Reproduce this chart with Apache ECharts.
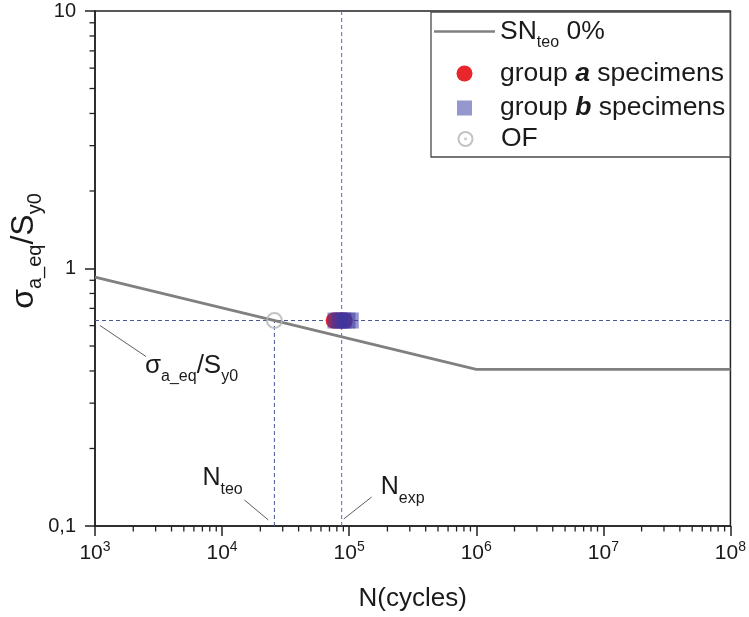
<!DOCTYPE html>
<html><head><meta charset="utf-8">
<script src="https://cdn.jsdelivr.net/npm/echarts@6/dist/echarts.min.js"></script>
<style>html,body{margin:0;padding:0;background:#fff}#c{width:749px;height:617px}</style>
</head><body><div id="c"></div>
<script>
// ---- data ----
const snCurveN = [1e3, 1e6, 1e8];
const snCurveS = [0.925, 0.406, 0.406];
const groupA_N = [75500, 79000, 83000, 87000, 92500];
const groupA_S = [0.628, 0.628, 0.628, 0.628, 0.628];
const groupB_N = [78000, 84000, 90000, 97000, 103000];
const groupB_S = [0.628, 0.628, 0.628, 0.628, 0.628];
const ofN = [25800];
const ofS = [0.628];
const refLevel = 0.628;
const nTeo = 25800;
const nExp = 87300;
const xMin = 1e3, xMax = 1e8, yMin = 0.1, yMax = 10;
const xDecades = [1e3, 1e4, 1e5, 1e6, 1e7];
const yDecades = [0.1, 1];
const minorMultipliers = [2, 3, 4, 5, 6, 7, 8, 9];
const yTickLabels = ['0,1', '1', '10'];
const seriesNames = ['SN', 'group a', 'group b', 'OF'];

const FONT = '"Liberation Sans", Arial, sans-serif';
const TXT = '#1a1a1a';
const zip = (a, b) => a.map((v, i) => [v, b[i]]);

const xMinor = [];
xDecades.forEach(d => minorMultipliers.forEach(m => xMinor.push([d * m, yMin])));
const yMinor = [];
yDecades.forEach(d => minorMultipliers.forEach(m => yMinor.push([xMin, d * m])));

function tickRender(dir) {
  return function (params, api) {
    const p = api.coord([api.value(0), api.value(1)]);
    const shape = dir === 'x'
      ? { x1: p[0], y1: p[1], x2: p[0], y2: p[1] + 5.5 }
      : { x1: p[0], y1: p[1], x2: p[0] - 5.5, y2: p[1] };
    return { type: 'line', shape, style: { stroke: '#222', lineWidth: 1.3 } };
  };
}

const chart = echarts.init(document.getElementById('c'), null, { renderer: 'canvas' });

const LFS = 26.5;
const ICON_CX = 464.5, TEXT_X = 500;
const legendBase = {
  orient: 'horizontal', padding: 0, itemGap: 0, selectedMode: false,
  left: 434, itemWidth: 61, symbolKeepAspect: true,
  textStyle: { fontFamily: FONT, fontSize: LFS, color: TXT, lineHeight: 30, padding: [0, 0, 0, 0] }
};
const boldRich = {
  m: { fontFamily: FONT, fontSize: LFS, color: TXT, lineHeight: 30 },
  b: { fontFamily: FONT, fontSize: LFS, color: TXT, lineHeight: 30, fontWeight: 'bold', fontStyle: 'italic' }
};
function symLegend(name, icon, size, top, formatter, rich) {
  const left = ICON_CX - size / 2;
  const pad = TEXT_X - (left + size + 5);
  return Object.assign({}, legendBase, {
    data: [icon ? { name, icon } : name], top, left, itemWidth: size, itemHeight: size,
    formatter,
    textStyle: Object.assign({}, legendBase.textStyle, { padding: [0, 0, 0, pad] }, rich ? { rich } : {})
  });
}

const option = {
  animation: false,
  backgroundColor: '#fff',
  grid: { left: 95, right: 16, top: 11, bottom: 89, show: true, borderColor: '#222', borderWidth: 1.5 },
  xAxis: {
    type: 'log', logBase: 10, min: xMin, max: xMax, splitNumber: 5,
    name: 'N(cycles)', nameLocation: 'middle', nameGap: 60,
    nameTextStyle: { fontFamily: FONT, fontSize: 26, color: TXT },
    axisLine: { lineStyle: { color: '#222', width: 1.5 } },
    axisTick: { length: 10, lineStyle: { color: '#222', width: 1.5 } },
    splitLine: { show: false },
    axisLabel: {
      margin: 14, color: TXT,
      formatter: v => '{m|10}{s|' + Math.round(Math.log10(v)) + '}',
      rich: {
        m: { fontFamily: FONT, fontSize: 21, color: TXT, lineHeight: 26, verticalAlign: 'middle' },
        s: { fontFamily: FONT, fontSize: 14, color: TXT, lineHeight: 14, verticalAlign: 'top' }
      }
    }
  },
  yAxis: {
    type: 'log', logBase: 10, min: yMin, max: yMax, splitNumber: 2,
    axisLine: { lineStyle: { color: '#222', width: 1.5 } },
    axisTick: { length: 10, lineStyle: { color: '#222', width: 1.5 } },
    splitLine: { show: false },
    axisLabel: {
      margin: 19, fontFamily: FONT, fontSize: 20, color: TXT,
      formatter: v => yTickLabels[Math.round(Math.log10(v)) + 1]
    }
  },
  legend: [
    Object.assign({}, legendBase, {
      data: [{ name: seriesNames[0], icon: 'rect' }], top: 12, itemHeight: 2.6, symbolKeepAspect: false,
      formatter: () => '{m|SN}{s|teo}{m| 0%}',
      textStyle: Object.assign({}, legendBase.textStyle, {
        rich: {
          m: { fontFamily: FONT, fontSize: LFS, color: TXT, lineHeight: 39, verticalAlign: 'middle' },
          s: { fontFamily: FONT, fontSize: 16, color: TXT, lineHeight: 16, verticalAlign: 'bottom' }
        }
      })
    }),
    symLegend(seriesNames[1], null, 16, 58.5, () => '{m|group }{b|a}{m| specimens}', boldRich),
    symLegend(seriesNames[2], 'path://M0,0H10V10H0Z', 15, 93, () => '{m|group }{b|b}{m| specimens}', boldRich),
    symLegend(seriesNames[3], 'path://M0,10a10,10 0 1,0 20,0a10,10 0 1,0 -20,0ZM9.3,10a0.7,0.7 0 1,0 1.4,0a0.7,0.7 0 1,0 -1.4,0Z',
      14, 124, () => 'OF', null)
  ],
  series: [
    {
      name: seriesNames[0], type: 'line', symbol: 'none', z: 3,
      data: zip(snCurveN, snCurveS),
      lineStyle: { color: '#808080', width: 2.8 }, itemStyle: { color: '#808080' }
    },
    {
      name: 'ref', type: 'line', symbol: 'none', silent: true, z: 2,
      data: [[xMin, refLevel], [xMax, refLevel]],
      lineStyle: { color: '#4a5596', width: 1, type: [4, 3] }
    },
    {
      name: 'teoLine', type: 'line', symbol: 'none', silent: true, z: 2,
      data: [[nTeo, yMin], [nTeo, refLevel]],
      lineStyle: { color: '#4a5596', width: 1, type: [4, 3] }
    },
    {
      name: 'expLine', type: 'line', symbol: 'none', silent: true, z: 2,
      data: [[nExp, yMin], [nExp, yMax]],
      lineStyle: { color: '#4a6ad0', width: 1, type: [4, 3] }
    },
    {
      name: seriesNames[1], type: 'scatter', symbol: 'circle', symbolSize: 16, z: 4,
      data: zip(groupA_N, groupA_S),
      itemStyle: { color: '#e8262b', opacity: 1 }
    },
    {
      name: seriesNames[2], type: 'scatter', symbol: 'rect', symbolSize: 16, z: 5,
      data: zip(groupB_N, groupB_S),
      itemStyle: { color: 'rgba(55,55,163,0.65)' }
    },
    {
      name: seriesNames[3], type: 'scatter', symbol: 'circle', symbolSize: 15, z: 6,
      data: zip(ofN, ofS),
      itemStyle: { color: 'rgba(255,255,255,0)', borderColor: '#b4b4b4', borderWidth: 2 }
    },
    {
      type: 'custom', silent: true, clip: false, z: 7,
      data: xMinor, encode: { x: 0, y: 1 }, renderItem: tickRender('x')
    },
    {
      type: 'custom', silent: true, clip: false, z: 7,
      data: yMinor, encode: { x: 0, y: 1 }, renderItem: tickRender('y')
    }
  ]
};
chart.setOption(option);

// ---- annotations anchored to data coordinates ----
const pRef = chart.convertToPixel({ gridIndex: 0 }, [xMin, refLevel]);
const pTeo = chart.convertToPixel({ gridIndex: 0 }, [nTeo, yMin]);
const pExp = chart.convertToPixel({ gridIndex: 0 }, [nExp, yMin]);
const gridRect = chart.getModel().getComponent('grid').coordinateSystem.getRect();

const subRich = (F, f) => ({
  m: { fontFamily: FONT, fontSize: F, fill: TXT, lineHeight: f + 23, verticalAlign: 'middle' },
  s: { fontFamily: FONT, fontSize: f, fill: TXT, lineHeight: f, verticalAlign: 'bottom' }
});

chart.setOption({
  graphic: [
    { type: 'rect', z: 100, shape: { x: 431, y: gridRect.y + 1, width: gridRect.x + gridRect.width - 431, height: 145 },
      style: { fill: 'rgba(255,255,255,0)', stroke: '#4a4a4a', lineWidth: 1.3 } },
    // y axis title
    { type: 'text', z: 100, x: 24, y: 251, rotation: Math.PI / 2,
      style: { text: '{m|σ}{s|a_eq}{m|/S}{s|y0}', align: 'center', verticalAlign: 'middle', rich: subRich(32, 20) } },
    // sigma annotation
    { type: 'line', z: 100, shape: { x1: pRef[0] + 5, y1: pRef[1] + 5, x2: pRef[0] + 51, y2: pRef[1] + 36 },
      style: { stroke: '#333', lineWidth: 0.8 } },
    { type: 'text', z: 100, x: pRef[0] + 50, y: pRef[1] + 45,
      style: { text: '{m|σ}{s|a_eq}{m|/S}{s|y0}', align: 'left', verticalAlign: 'middle', rich: subRich(26, 16) } },
    // N_teo annotation
    { type: 'line', z: 100, shape: { x1: pTeo[0] - 30, y1: pTeo[1] - 26, x2: pTeo[0] - 6, y2: pTeo[1] - 6 },
      style: { stroke: '#333', lineWidth: 0.8 } },
    { type: 'text', z: 100, x: pTeo[0] - 72, y: pTeo[1] - 48,
      style: { text: '{m|N}{s|teo}', align: 'left', verticalAlign: 'middle', rich: subRich(25, 16) } },
    // N_exp annotation
    { type: 'line', z: 100, shape: { x1: pExp[0] + 30, y1: pExp[1] - 29, x2: pExp[0] + 2, y2: pExp[1] - 7 },
      style: { stroke: '#333', lineWidth: 0.8 } },
    { type: 'text', z: 100, x: pExp[0] + 39, y: pExp[1] - 39,
      style: { text: '{m|N}{s|exp}', align: 'left', verticalAlign: 'middle', rich: subRich(25, 16) } }
  ]
});
</script></body></html>
